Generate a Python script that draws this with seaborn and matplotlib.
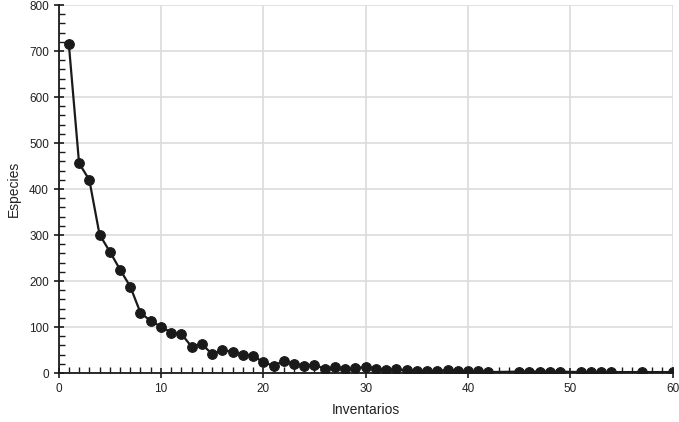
import pandas as pd
import seaborn as sns
import matplotlib.pyplot as plt
from matplotlib.ticker import MultipleLocator

# Inventory number and species count
inventarios = list(range(1, 43)) + [45, 46, 47, 48, 49, 51, 52, 53, 54, 57, 60]
especies = [715, 456, 420, 301, 264, 225, 188, 131, 113, 101,
            88, 85, 57, 63, 41, 50, 46, 40, 38, 23,
            16, 26, 19, 16, 18, 9, 12, 9, 10, 14,
            9, 7, 8, 6, 5, 5, 4, 7, 5, 4,
            4, 2, 3, 3, 3, 3, 3, 2, 2, 2, 2, 2, 2]

df = pd.DataFrame({'Inventarios': inventarios, 'Especies': especies})

sns.set_style('white')
plt.rcParams['font.family'] = ['Liberation Sans', 'DejaVu Sans']

fig = plt.figure(figsize=(6.79, 4.22), dpi=100)
ax = fig.add_axes([0.0863, 0.1161, 0.9044, 0.872])

sns.lineplot(data=df, x='Inventarios', y='Especies', ax=ax, color='#1a1a1a',
             linewidth=1.6, marker='o', markersize=7, markeredgecolor='#1a1a1a',
             zorder=3)

ax.set_xlim(0, 60)
ax.set_ylim(0, 800)
ax.xaxis.set_major_locator(MultipleLocator(10))
ax.xaxis.set_minor_locator(MultipleLocator(1))
ax.yaxis.set_major_locator(MultipleLocator(100))
ax.yaxis.set_minor_locator(MultipleLocator(20))

ax.grid(True, which='major', color='#dcdcdc', linewidth=1.2)
ax.set_axisbelow(True)

for side in ['top', 'right']:
    ax.spines[side].set_visible(False)
for side in ['left', 'bottom']:
    ax.spines[side].set_color('#1a1a1a')
    ax.spines[side].set_linewidth(1.3)

ax.tick_params(which='major', direction='inout', length=7, width=1.2,
               color='#1a1a1a', labelsize=8.5, labelcolor='#222222')
ax.tick_params(which='minor', direction='in', length=4, width=1.0, color='#1a1a1a')
ax.tick_params(axis='x', which='both', bottom=True)
ax.tick_params(axis='y', which='both', left=True)

ax.set_xlabel('Inventarios', fontsize=10, color='#222222', labelpad=6)
ax.set_ylabel('Especies', fontsize=10, color='#222222', labelpad=6)

fig.savefig('out.png', dpi=100)
